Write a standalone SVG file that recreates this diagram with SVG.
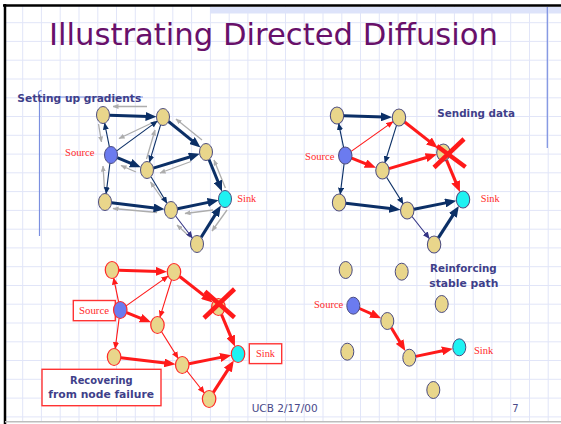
<svg xmlns="http://www.w3.org/2000/svg" width="561" height="424" viewBox="0 0 561 424">
<style>
.grid{stroke:#e1e5f8;stroke-width:1;fill:none}
.nd{fill:#e9d68b;stroke:#4c4c80;stroke-width:1}
.ndr{fill:#e9d68b;stroke:#ff2a2a;stroke-width:1.2}
.src{fill:#6b7bef}
.snk{fill:#1ef2f2}
.nt{stroke:#0b2f66;stroke-width:3;fill:none;marker-end:url(#mNT)}
.ns{stroke:#0b2f66;stroke-width:1.1;fill:none;marker-end:url(#mNS)}
.ps{stroke:#353585;stroke-width:1.1;fill:none;marker-end:url(#mPS)}
.rt{stroke:#ff1a1a;stroke-width:3;fill:none;marker-end:url(#mRT)}
.rs{stroke:#ff1a1a;stroke-width:1.1;fill:none;marker-end:url(#mRS)}
.gr{stroke:#adadad;stroke-width:1.3;fill:none;marker-end:url(#mG)}
.x{stroke:#ff1a1a;stroke-width:4.5;stroke-linecap:butt}
.lbl{font-family:"Liberation Serif",serif;font-size:10.5px;fill:#ff2a2a}
.bold{font-family:"DejaVu Sans",sans-serif;font-weight:bold;font-size:10.5px;fill:#3f3f8a}
.foot{font-family:"DejaVu Sans",sans-serif;font-size:10px;fill:#4a4a8a}
.box{fill:#ffffff;stroke:#ff3333;stroke-width:1.4}
</style>
<defs>
<marker id="mNT" viewBox="0 0 11 9" markerWidth="11" markerHeight="9" refX="3" refY="4.5" orient="auto" markerUnits="userSpaceOnUse"><path d="M0,0 L11,4.5 L0,9 z" fill="#0b2f66"/></marker>
<marker id="mRT" viewBox="0 0 11 9" markerWidth="11" markerHeight="9" refX="3" refY="4.5" orient="auto" markerUnits="userSpaceOnUse"><path d="M0,0 L11,4.5 L0,9 z" fill="#ff1a1a"/></marker>
<marker id="mNS" viewBox="0 0 7 6" markerWidth="7" markerHeight="6" refX="6.5" refY="3" orient="auto" markerUnits="userSpaceOnUse"><path d="M0,0 L7,3 L0,6 z" fill="#0b2f66"/></marker>
<marker id="mPS" viewBox="0 0 7 6" markerWidth="7" markerHeight="6" refX="6.5" refY="3" orient="auto" markerUnits="userSpaceOnUse"><path d="M0,0 L7,3 L0,6 z" fill="#353585"/></marker>
<marker id="mRS" viewBox="0 0 7 6" markerWidth="7" markerHeight="6" refX="6.5" refY="3" orient="auto" markerUnits="userSpaceOnUse"><path d="M0,0 L7,3 L0,6 z" fill="#ff1a1a"/></marker>
<marker id="mG" viewBox="0 0 6 5" markerWidth="6" markerHeight="5" refX="5.5" refY="2.5" orient="auto" markerUnits="userSpaceOnUse"><path d="M0,0 L6,2.5 L0,5 z" fill="#adadad"/></marker>
</defs>

<rect x="0" y="0" width="561" height="424" fill="#ffffff"/>
<path class="grid" d="M22.7 5V421M41.4 5V421M60.2 5V421M79 5V421M97.8 5V421M116.5 5V421M135.3 5V421M154.1 5V421M172.8 5V421M191.6 5V421M210.4 5V421M229.2 5V421M247.9 5V421M266.7 5V421M285.5 5V421M304.2 5V421M323 5V421M341.8 5V421M360.5 5V421M379.3 5V421M398.1 5V421M416.9 5V421M435.6 5V421M454.4 5V421M473.2 5V421M491.9 5V421M510.7 5V421M529.5 5V421M548.2 5V421M5 22.7H561M5 41.4H561M5 60.2H561M5 79H561M5 97.8H561M5 116.5H561M5 135.3H561M5 154.1H561M5 172.8H561M5 191.6H561M5 210.4H561M5 229.2H561M5 247.9H561M5 266.7H561M5 285.5H561M5 304.2H561M5 323H561M5 341.8H561M5 360.5H561M5 379.3H561M5 398.1H561M5 416.9H561"/>
<rect x="210" y="7" width="351" height="6.5" fill="#dde3fa"/>
<line x1="547.3" y1="7" x2="547.3" y2="148" stroke="#7b8fe0" stroke-width="1.2"/>
<line x1="3" y1="5.5" x2="561" y2="5.5" stroke="#000000" stroke-width="2.5"/>
<line x1="5" y1="4" x2="5" y2="424" stroke="#000000" stroke-width="2.5"/>
<line x1="5" y1="421.7" x2="561" y2="421.7" stroke="#bdbdbd" stroke-width="1.5"/>

<text x="49" y="45" font-family="DejaVu Sans, sans-serif" font-size="30.5" fill="#68106a" textLength="449" lengthAdjust="spacingAndGlyphs">Illustrating Directed Diffusion</text>

<path d="M39.5 236V97M39.5 97H143M39.5 97C37.5 94 38 90.5 41.5 90.5" stroke="#7b8fe0" stroke-width="1.2" fill="none"/>
<text class="bold" x="17.3" y="102" textLength="124" lengthAdjust="spacingAndGlyphs">Setting up gradients</text>
<text class="bold" x="437.3" y="116.7" textLength="77.7" lengthAdjust="spacingAndGlyphs">Sending data</text>
<text class="bold" x="430" y="272.3" textLength="66.7" lengthAdjust="spacingAndGlyphs">Reinforcing</text>
<text class="bold" x="429.3" y="287.3" textLength="69" lengthAdjust="spacingAndGlyphs">stable path</text>

<!-- Top-left graph -->
<g id="graph1">
<g id="g1-connectors">
<line class="gr" x1="147" y1="106.5" x2="113" y2="106.5"/>
<line class="gr" x1="98.5" y1="124" x2="101.5" y2="142"/>
<line class="gr" x1="155" y1="121.5" x2="119" y2="138.5"/>
<line class="gr" x1="146.5" y1="159" x2="155" y2="130"/>
<line class="gr" x1="136" y1="172" x2="121" y2="165.5"/>
<line class="gr" x1="104.5" y1="189" x2="103" y2="166"/>
<line class="gr" x1="202" y1="140" x2="176" y2="119"/>
<line class="gr" x1="191" y1="161.5" x2="160" y2="173"/>
<line class="gr" x1="163" y1="200" x2="150.5" y2="182"/>
<line class="gr" x1="225.4" y1="188" x2="214" y2="160"/>
<line class="gr" x1="157" y1="212.5" x2="113" y2="208.5"/>
<line class="gr" x1="213" y1="210" x2="185" y2="213.5"/>
<line class="gr" x1="190" y1="237" x2="177" y2="225"/>
<line class="gr" x1="227" y1="210" x2="212" y2="231"/>
<line class="nt" x1="109.5" y1="115.2" x2="148.5" y2="116.5"/>
<line class="nt" x1="117.2" y1="157.6" x2="133.4" y2="164.3"/>
<line class="nt" x1="168.5" y1="121.5" x2="194.3" y2="142.4"/>
<line class="nt" x1="153.3" y1="168.1" x2="192.1" y2="156.2"/>
<line class="nt" x1="209" y1="159.5" x2="219" y2="184.1"/>
<line class="nt" x1="111.5" y1="202.8" x2="156.6" y2="208.3"/>
<line class="nt" x1="177.5" y1="208.7" x2="210.7" y2="201.9"/>
<line class="nt" x1="201.1" y1="237.4" x2="216.7" y2="212.4"/>
<line class="ns" x1="109.4" y1="146.9" x2="104.6" y2="123.1"/>
<line class="ns" x1="116.7" y1="150.9" x2="157.3" y2="121.1"/>
<line class="ns" x1="109.9" y1="163.3" x2="106.1" y2="193.7"/>
<line class="ns" x1="160.6" y1="124.8" x2="149.4" y2="162.2"/>
<line class="ns" x1="151" y1="176.7" x2="167" y2="203.3"/>
<line class="ps" x1="175.6" y1="216" x2="192.4" y2="238"/>
</g>
<g id="n1-a"><ellipse class="nd" cx="103" cy="115" rx="6.5" ry="8.5"/></g>
<g id="n1-b"><ellipse class="nd" cx="163" cy="117" rx="6.5" ry="8.5"/></g>
<g id="n1-source"><ellipse class="nd src" cx="111" cy="155" rx="6.5" ry="8.5"/></g>
<g id="n1-c"><ellipse class="nd" cx="147" cy="170" rx="6.5" ry="8.5"/></g>
<g id="n1-d"><ellipse class="nd" cx="206" cy="152" rx="6.5" ry="8.5"/></g>
<g id="n1-e"><ellipse class="nd" cx="105" cy="202" rx="6.5" ry="8.5"/></g>
<g id="n1-f"><ellipse class="nd" cx="171" cy="210" rx="6.5" ry="8.5"/></g>
<g id="n1-sink"><ellipse class="nd snk" cx="225" cy="199" rx="6.5" ry="8.5"/></g>
<g id="n1-g"><ellipse class="nd" cx="197" cy="244" rx="6.5" ry="8.5"/></g>
</g>
<text class="lbl" x="65" y="156" textLength="29.5" lengthAdjust="spacingAndGlyphs">Source</text>
<text class="lbl" x="237.3" y="202" textLength="19" lengthAdjust="spacingAndGlyphs">Sink</text>

<!-- Top-right graph -->
<g id="graph2" transform="translate(230.6,0.5) scale(1.033,1)">
<g id="g2-connectors">
<line class="nt" x1="109.5" y1="115.2" x2="148.5" y2="116.5"/>
<line class="rt" x1="117.2" y1="157.6" x2="133.4" y2="164.3"/>
<line class="rt" x1="168.5" y1="121.5" x2="194.3" y2="142.4"/>
<line class="rt" x1="153.3" y1="168.1" x2="192.1" y2="156.2"/>
<line class="rt" x1="209" y1="159.5" x2="219" y2="184.1"/>
<line class="nt" x1="111.5" y1="202.8" x2="156.6" y2="208.3"/>
<line class="nt" x1="177.5" y1="208.7" x2="210.7" y2="201.9"/>
<line class="nt" x1="201.1" y1="237.4" x2="216.7" y2="212.4"/>
<line class="ns" x1="109.4" y1="146.9" x2="104.6" y2="123.1"/>
<line class="rs" x1="116.7" y1="150.9" x2="157.3" y2="121.1"/>
<line class="ns" x1="109.9" y1="163.3" x2="106.1" y2="193.7"/>
<line class="ns" x1="160.6" y1="124.8" x2="149.4" y2="162.2"/>
<line class="ns" x1="151" y1="176.7" x2="167" y2="203.3"/>
<line class="ps" x1="175.6" y1="216" x2="192.4" y2="238"/>
</g>
<g id="n2-a"><ellipse class="nd" cx="103" cy="115" rx="6.5" ry="8.5"/></g>
<g id="n2-b"><ellipse class="nd" cx="163" cy="117" rx="6.5" ry="8.5"/></g>
<g id="n2-source"><ellipse class="nd src" cx="111" cy="155" rx="6.5" ry="8.5"/></g>
<g id="n2-c"><ellipse class="nd" cx="147" cy="170" rx="6.5" ry="8.5"/></g>
<g id="n2-d"><ellipse class="nd" cx="206" cy="152" rx="6.5" ry="8.5"/></g>
<g id="n2-e"><ellipse class="nd" cx="105" cy="202" rx="6.5" ry="8.5"/></g>
<g id="n2-f"><ellipse class="nd" cx="171" cy="210" rx="6.5" ry="8.5"/></g>
<g id="n2-sink"><ellipse class="nd snk" cx="225" cy="199" rx="6.5" ry="8.5"/></g>
<g id="n2-g"><ellipse class="nd" cx="197" cy="244" rx="6.5" ry="8.5"/></g>
</g>
<g id="x2"><line class="x" x1="434" y1="167.5" x2="464" y2="139"/><line class="x" x1="437" y1="146" x2="465.5" y2="167"/></g>
<text class="lbl" x="305" y="159.5" textLength="29.5" lengthAdjust="spacingAndGlyphs">Source</text>
<text class="lbl" x="480.7" y="202" textLength="19" lengthAdjust="spacingAndGlyphs">Sink</text>

<!-- Bottom-left graph -->
<g id="lbl3-boxes">
<rect class="box" x="73.3" y="300.5" width="42" height="20.2"/>
<rect class="box" x="249.3" y="343.8" width="32.4" height="19.8"/>
<rect class="box" x="42" y="369.3" width="119" height="36.4"/>
</g>
<g id="graph3" transform="translate(5.6,155) scale(1.033,1)">
<g id="g3-connectors">
<line class="rt" x1="109.5" y1="115.2" x2="148.5" y2="116.5"/>
<line class="rt" x1="117.2" y1="157.6" x2="133.4" y2="164.3"/>
<line class="rt" x1="168.5" y1="121.5" x2="194.3" y2="142.4"/>
<line class="rt" x1="209" y1="159.5" x2="219" y2="184.1"/>
<line class="rt" x1="111.5" y1="202.8" x2="156.6" y2="208.3"/>
<line class="rt" x1="177.5" y1="208.7" x2="210.7" y2="201.9"/>
<line class="rt" x1="201.1" y1="237.4" x2="216.7" y2="212.4"/>
<line class="rs" x1="109.4" y1="146.9" x2="104.6" y2="123.1"/>
<line class="rs" x1="116.7" y1="150.9" x2="157.3" y2="121.1"/>
<line class="rs" x1="109.9" y1="163.3" x2="106.1" y2="193.7"/>
<line class="rs" x1="160.6" y1="124.8" x2="149.4" y2="162.2"/>
<line class="rs" x1="151" y1="176.7" x2="167" y2="203.3"/>
<line class="rs" x1="175.6" y1="216" x2="192.4" y2="238"/>
</g>
<g id="n3-a"><ellipse class="ndr" cx="103" cy="115" rx="6.5" ry="8.5"/></g>
<g id="n3-b"><ellipse class="ndr" cx="163" cy="117" rx="6.5" ry="8.5"/></g>
<g id="n3-source"><ellipse class="ndr src" cx="111" cy="155" rx="6.5" ry="8.5"/></g>
<g id="n3-c"><ellipse class="ndr" cx="147" cy="170" rx="6.5" ry="8.5"/></g>
<g id="n3-d"><ellipse class="ndr" cx="206" cy="152" rx="6.5" ry="8.5"/></g>
<g id="n3-e"><ellipse class="ndr" cx="105" cy="202" rx="6.5" ry="8.5"/></g>
<g id="n3-f"><ellipse class="ndr" cx="171" cy="210" rx="6.5" ry="8.5"/></g>
<g id="n3-sink"><ellipse class="ndr snk" cx="225" cy="199" rx="6.5" ry="8.5"/></g>
<g id="n3-g"><ellipse class="ndr" cx="197" cy="244" rx="6.5" ry="8.5"/></g>
</g>
<g id="x3"><line class="x" x1="204" y1="318" x2="234.5" y2="289"/><line class="x" x1="205" y1="291.5" x2="234.5" y2="317.5"/></g>
<text class="lbl" x="79" y="314.3" textLength="30" lengthAdjust="spacingAndGlyphs">Source</text>
<text class="lbl" x="256" y="357" textLength="19" lengthAdjust="spacingAndGlyphs">Sink</text>
<text class="bold" x="70" y="383.5" textLength="62.7" lengthAdjust="spacingAndGlyphs">Recovering</text>
<text class="bold" x="48.3" y="398.3" textLength="105.7" lengthAdjust="spacingAndGlyphs">from node failure</text>

<!-- Bottom-right graph -->
<g id="graph4">
<g id="g4-connectors">
<line class="rt" x1="359.5" y1="308.5" x2="373.8" y2="314.9"/>
<line class="rt" x1="391.3" y1="327.7" x2="401.2" y2="344.1"/>
<line class="rt" x1="415.8" y1="356.4" x2="445" y2="350.3"/>
</g>
<g id="n4-a"><ellipse class="nd" cx="345.7" cy="270" rx="6.5" ry="8.5"/></g>
<g id="n4-b"><ellipse class="nd" cx="401.7" cy="271.7" rx="6.5" ry="8.5"/></g>
<g id="n4-source"><ellipse class="nd src" cx="353.3" cy="305.7" rx="6.5" ry="8.5"/></g>
<g id="n4-c"><ellipse class="nd" cx="387.3" cy="321" rx="6.5" ry="8.5"/></g>
<g id="n4-d"><ellipse class="nd" cx="441.7" cy="304" rx="6.5" ry="8.5"/></g>
<g id="n4-e"><ellipse class="nd" cx="347.3" cy="351.7" rx="6.5" ry="8.5"/></g>
<g id="n4-f"><ellipse class="nd" cx="409.3" cy="357.7" rx="6.5" ry="8.5"/></g>
<g id="n4-sink"><ellipse class="nd snk" cx="459.3" cy="347.3" rx="6.5" ry="8.5"/></g>
<g id="n4-g"><ellipse class="nd" cx="433.3" cy="390" rx="6.5" ry="8.5"/></g>
</g>
<text class="lbl" x="314" y="308.3" textLength="29.3" lengthAdjust="spacingAndGlyphs">Source</text>
<text class="lbl" x="474" y="354.3" textLength="19.3" lengthAdjust="spacingAndGlyphs">Sink</text>

<text class="foot" x="251.7" y="411.7" textLength="66" lengthAdjust="spacingAndGlyphs">UCB 2/17/00</text>
<text class="foot" x="512.3" y="411.7">7</text>
</svg>
